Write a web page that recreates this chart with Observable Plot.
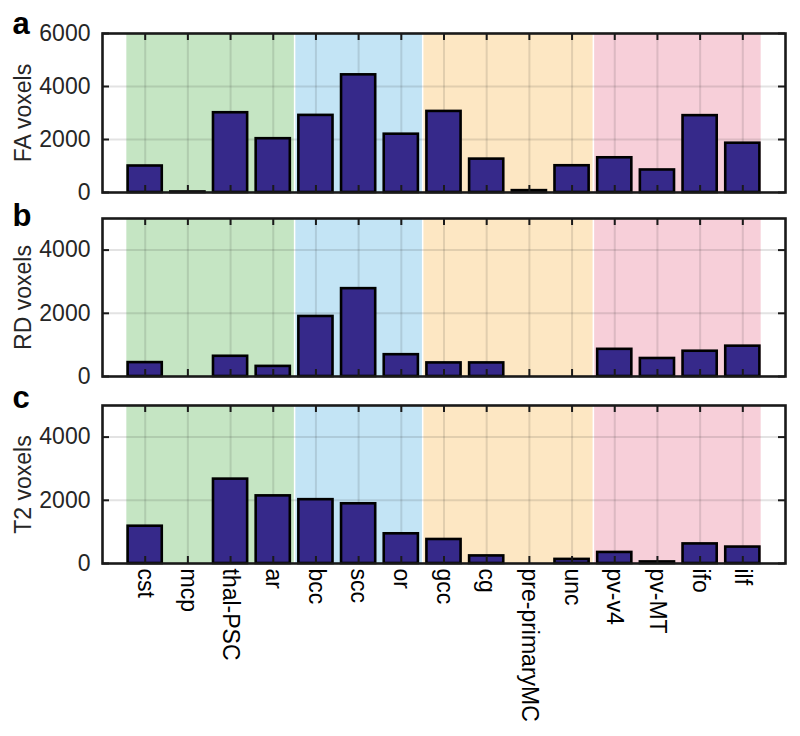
<!DOCTYPE html>
<html>
<head>
<meta charset="utf-8">
<script src="https://cdn.jsdelivr.net/npm/d3@7"></script>
<script src="https://cdn.jsdelivr.net/npm/@observablehq/plot@0.6"></script>
<style>
  body { margin: 0; background: #fff; }
  #chart svg { display: block; }
</style>
</head>
<body>
<div id="chart"></div>
<script>
const categories = ["cst","mcp","thal-PSC","ar","bcc","scc","or","gcc","cg","pre-primaryMC","unc","pv-v4","pv-MT","ifo","ilf"];
const faVoxels = [1000, 20, 3010, 2030, 2910, 4440, 2200, 3060, 1260, 70, 1010, 1310, 850, 2900, 1860];
const rdVoxels = [440, 0, 640, 320, 1900, 2780, 690, 430, 430, 0, 0, 860, 570, 800, 960];
const t2Voxels = [1180, 0, 2670, 2140, 2020, 1890, 940, 760, 240, 0, 130, 350, 50, 620, 520];

const groupFirst = [0, 4, 7, 11];
const groupLast = [3, 6, 10, 14];
const groupColors = ["#c5e5c3", "#c3e4f5", "#fde7c3", "#f7cfd9"];

const barColor = "#36298a";
const font = "'Liberation Sans', Arial, Helvetica, sans-serif";
const W = 800, ML = 102, MR = 15;
const frameW = W - ML - MR;
const fs = 23;

const regions = groupFirst.map((f, k) => ({
  x1: f === 0 ? f + 1 - 0.43 : f + 0.5,
  x2: groupLast[k] === categories.length - 1 ? groupLast[k] + 1 + 0.43 : groupLast[k] + 1.5,
  color: groupColors[k]
}));
const separators = groupFirst.slice(1).map(f => f + 0.5);
const xPositions = categories.map((c, i) => i + 1);

function panel({values, letter, letterDy, ylabel, yMax, yTicks, gridTicks, height, marginTop, marginBottom, showX}) {
  const frameH = height - marginTop - marginBottom;
  const data = categories.map((c, i) => ({c, i, v: values[i]})).filter(d => d.v > 0);
  const tickLen = 7;
  const marks = [
    Plot.rect(regions, {x1: "x1", x2: "x2", fill: "color"}),
    Plot.ruleX(separators, {stroke: "#ffffff", strokeWidth: 1.5}),
    Plot.gridX({ticks: xPositions, stroke: "#262626", strokeOpacity: 0.13, strokeWidth: 2}),
    Plot.gridY({ticks: gridTicks, stroke: "#262626", strokeOpacity: 0.13, strokeWidth: 2}),
    Plot.rectY(data, {x1: d => d.i + 1 - 0.4, x2: d => d.i + 1 + 0.4, y1: 0, y2: "v", fill: barColor, stroke: "#000", strokeWidth: 2.6}),
    // inward ticks
    Plot.ruleX(xPositions, {stroke: "#1a1a1a", strokeWidth: 2, insetTop: frameH - tickLen}),
    Plot.ruleX(xPositions, {stroke: "#1a1a1a", strokeWidth: 2, insetBottom: frameH - tickLen}),
    Plot.ruleY(yTicks, {stroke: "#1a1a1a", strokeWidth: 2, insetRight: frameW - tickLen}),
    Plot.ruleY(yTicks, {stroke: "#1a1a1a", strokeWidth: 2, insetLeft: frameW - tickLen}),
    Plot.frame({stroke: "#1a1a1a", strokeWidth: 2.6}),
    Plot.axisY({ticks: yTicks, tickSize: 0, tickPadding: 12, fontSize: fs, label: null, tickFormat: d => String(d)}),
    Plot.text([ylabel], {frameAnchor: "left", rotate: -90, dx: -79, textAnchor: "middle", lineAnchor: "middle", fontSize: fs, fill: "#262626"}),
    Plot.text([letter], {frameAnchor: "top-left", dx: -90, dy: letterDy, textAnchor: "start", lineAnchor: "bottom", fontSize: 31, fontWeight: "bold", fill: "#000"})
  ];
  if (showX) {
    marks.push(Plot.text(categories, {x: (d, i) => i + 1, text: d => d, frameAnchor: "bottom", rotate: 90, textAnchor: "start", lineAnchor: "middle", dy: 5, fontSize: fs, fill: "#000"}));
  }
  return Plot.plot({
    width: W, height, marginLeft: ML, marginRight: MR, marginTop, marginBottom,
    style: {fontFamily: font, color: "#262626", background: "transparent", overflow: "visible"},
    x: {type: "linear", domain: [0, categories.length + 1], axis: null},
    y: {domain: [0, yMax], axis: null},
    marks
  });
}

const chart = document.getElementById("chart");
chart.append(panel({values: faVoxels, letter: "a", letterDy: 0, ylabel: "FA voxels", yMax: 6000, yTicks: [0, 2000, 4000, 6000], gridTicks: [2000, 4000], height: 200, marginTop: 33, marginBottom: 8, showX: false}));
chart.append(panel({values: rdVoxels, letter: "b", letterDy: 7, ylabel: "RD voxels", yMax: 5000, yTicks: [0, 2000, 4000], gridTicks: [2000, 4000], height: 185, marginTop: 18, marginBottom: 9, showX: false}));
chart.append(panel({values: t2Voxels, letter: "c", letterDy: 2, ylabel: "T2 voxels", yMax: 5000, yTicks: [0, 2000, 4000], gridTicks: [2000, 4000], height: 351, marginTop: 20, marginBottom: 173, showX: true}));
</script>
</body>
</html>
